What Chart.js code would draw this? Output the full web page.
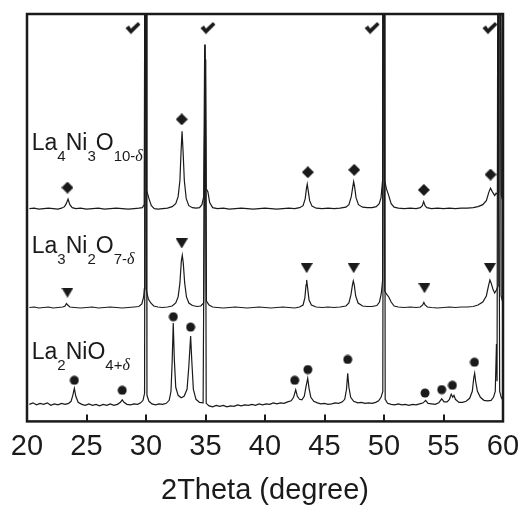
<!DOCTYPE html>
<html>
<head>
<meta charset="utf-8">
<script src="https://cdn.jsdelivr.net/npm/chart.js@4/dist/chart.umd.min.js"></script>
<style>
  html, body { margin: 0; padding: 0; background: #fff; }
  #wrap { width: 522px; height: 508px; position: relative; }
</style>
</head>
<body>
<div id="wrap"><canvas id="xrd"></canvas></div>
<script>
// x tick labels (2Theta)
const xTicks = [20, 25, 30, 35, 40, 45, 50, 55, 60];

// traces: [2theta, intensity] (offset arbitrary units)
const la4ni3o10 = [[20.2,212],[20.6,212.5],[21.0,211.5],[21.4,212],[21.8,212.5],[22.2,212],[22.6,211.5],[22.9,212.5],[23.15,214],[23.3,217],[23.45,221.5],[23.6,216],[23.8,213],[24.1,212],[24.5,212.5],[25.0,211.5],[25.5,212],[26.0,212.5],[26.5,211.5],[27.0,212],[27.5,212.5],[28.0,212],[28.5,211.5],[29.0,212],[29.4,212.5],[29.7,213],[29.85,216],[29.93,600],[30.0,600],[30.06,230],[30.25,222],[30.45,215],[30.7,212],[31.0,211.5],[31.4,212],[31.8,212.5],[32.2,214],[32.5,217],[32.7,224],[32.85,240],[32.95,270],[33.03,289],[33.12,268],[33.22,240],[33.38,222],[33.6,215],[33.9,213],[34.2,212.5],[34.5,213],[34.7,216],[34.85,224],[34.93,375],[34.98,375],[35.05,232],[35.2,229],[35.35,218],[35.6,213],[36.0,212],[36.5,212.5],[37.0,211.5],[37.5,212],[38.0,212.5],[38.5,212],[39.0,211.5],[39.5,212],[40.0,212.5],[40.5,212],[41.0,211.5],[41.5,212],[42.0,212.5],[42.5,212],[42.9,213],[43.2,215],[43.38,222],[43.48,232],[43.55,236.5],[43.63,230],[43.75,220],[43.95,214.5],[44.3,212.5],[44.8,212],[45.3,212.5],[45.8,212],[46.3,212.5],[46.8,213.5],[47.05,216],[47.25,224],[47.38,234],[47.45,239],[47.53,234],[47.65,223],[47.85,216],[48.2,213.5],[48.6,213],[49.0,213],[49.35,214],[49.6,217],[49.75,223],[49.88,240],[49.93,600],[50.0,600],[50.06,240],[50.2,232],[50.4,225],[50.6,217],[50.85,213.5],[51.2,212.5],[51.7,212],[52.2,212.5],[52.7,212],[53.05,213],[53.22,215],[53.33,219],[53.45,215],[53.6,213],[54.0,212],[54.5,212.5],[55.0,212],[55.5,212.5],[56.0,212],[56.5,212.5],[57.0,212.5],[57.5,213],[57.9,214],[58.3,216],[58.6,220],[58.8,228],[58.95,232.5],[59.1,229],[59.3,225],[59.42,227.5],[59.55,226],[59.65,228],[59.72,600],[59.8,600],[59.86,226],[59.95,221]];

const la3ni2o7 = [[20.2,113.5],[20.6,114],[21.0,113],[21.4,113.5],[21.8,114],[22.2,113],[22.6,113.5],[23.0,114],[23.2,115],[23.32,117.5],[23.42,116],[23.6,114],[24.0,113.5],[24.5,113],[25.0,113.5],[25.5,114],[26.0,113],[26.5,113.5],[27.0,114],[27.5,113.5],[28.0,113],[28.5,113.5],[29.0,114],[29.4,114.5],[29.65,117],[29.8,124],[29.86,132],[29.9,600],[29.97,600],[30.03,130],[30.2,122],[30.4,118],[30.65,115],[31.0,114],[31.4,113.5],[31.8,114],[32.2,115],[32.5,118],[32.7,124],[32.85,138],[32.97,160],[33.05,165.5],[33.13,158],[33.25,138],[33.4,124],[33.6,118],[33.9,115.5],[34.3,114.5],[34.6,115],[34.85,118],[34.95,360],[35.02,360],[35.08,120],[35.3,116],[35.6,114],[36.0,113.5],[36.5,113],[37.0,113.5],[37.5,114],[38.0,113.5],[38.5,113],[39.0,113.5],[39.5,114],[40.0,113.5],[40.5,113],[41.0,113.5],[41.5,114],[42.0,113.5],[42.5,113],[42.9,114],[43.2,116],[43.35,123],[43.45,136],[43.5,141],[43.57,134],[43.7,121],[43.9,116],[44.3,114],[44.8,113.5],[45.3,114],[45.8,113.5],[46.3,114],[46.8,115],[47.05,118],[47.22,126],[47.35,136],[47.42,140],[47.5,136],[47.62,125],[47.82,118],[48.2,115],[48.6,114.5],[49.0,114.5],[49.4,115.5],[49.62,119],[49.78,128],[49.88,140],[49.93,600],[50.0,600],[50.06,130],[50.2,127],[50.4,124],[50.6,119],[50.85,115],[51.2,114],[51.7,113.5],[52.2,114],[52.7,113.5],[53.05,114],[53.25,116],[53.35,118.5],[53.45,116],[53.65,114],[54.0,113.5],[54.5,113],[55.0,113.5],[55.5,114],[56.0,113.5],[56.5,114],[57.0,114],[57.5,114.5],[57.9,116],[58.3,119],[58.6,125],[58.78,135],[58.9,141],[59.0,138],[59.15,132],[59.3,128],[59.45,131],[59.6,135],[59.68,600],[59.76,600],[59.84,125],[59.95,120]];

const la2nio4 = [[20.2,17],[20.5,18.5],[20.8,16.5],[21.1,18],[21.4,17],[21.7,18.5],[22.0,16],[22.3,17.5],[22.6,16.5],[22.9,18],[23.2,17],[23.5,18],[23.7,20],[23.85,26],[23.98,33],[24.1,25],[24.3,19],[24.6,17],[24.9,16],[25.2,17.5],[25.5,16],[25.8,17],[26.1,15.5],[26.4,17],[26.7,16],[27.0,17.5],[27.3,16],[27.6,17],[27.85,19],[28.0,21.5],[28.15,19],[28.4,17],[28.7,16.5],[29.0,17.5],[29.3,17],[29.55,18.5],[29.75,21],[29.88,28],[29.95,600],[30.02,600],[30.08,26],[30.25,20],[30.5,17.5],[30.8,16.5],[31.1,17.5],[31.4,17],[31.7,18],[31.95,21],[32.1,30],[32.2,60],[32.29,98],[32.38,62],[32.5,34],[32.7,26],[32.95,23.5],[33.2,25],[33.45,32],[33.6,55],[33.75,85],[33.85,60],[33.98,32],[34.2,22],[34.5,19],[34.8,18.5],[34.93,300],[35.0,300],[35.06,18],[35.3,15.5],[35.6,14.5],[35.9,16],[36.2,15],[36.5,16],[36.8,14.5],[37.1,15.5],[37.4,15],[37.7,16.5],[38.0,15.5],[38.3,16.5],[38.6,16],[38.9,17],[39.2,16],[39.5,17.5],[39.8,16.5],[40.1,17.5],[40.4,17],[40.7,18.5],[41.0,17.5],[41.3,18.5],[41.6,18],[41.9,19.5],[42.2,20.5],[42.4,24],[42.58,31.5],[42.72,25],[42.9,22],[43.1,21.5],[43.3,25],[43.45,35],[43.59,43],[43.7,33],[43.85,24],[44.1,20],[44.4,18.5],[44.7,17.5],[45.0,18],[45.3,17],[45.6,17.5],[45.9,18.5],[46.2,18],[46.5,19.5],[46.7,22],[46.85,32],[46.95,48],[47.05,34],[47.2,24],[47.45,20],[47.8,18.5],[48.1,19],[48.4,18],[48.7,18.5],[49.0,18],[49.3,19],[49.55,20.5],[49.75,24],[49.9,30],[49.97,600],[50.04,600],[50.1,22],[50.3,18],[50.6,17],[50.9,16.5],[51.2,17.5],[51.5,16.5],[51.8,17],[52.1,16],[52.4,17],[52.7,16.5],[53.0,17.5],[53.3,18.5],[53.5,21],[53.7,18],[54.0,17.5],[54.3,17],[54.6,18.5],[54.85,22.5],[55.05,19.5],[55.3,19.5],[55.5,22],[55.65,27],[55.78,24],[55.88,26],[56.0,22],[56.3,19],[56.6,19],[56.9,20],[57.2,23],[57.42,30],[57.55,44],[57.62,48],[57.7,40],[57.85,30],[58.1,24],[58.4,21],[58.7,20.5],[59.0,21],[59.2,24],[59.35,30],[59.45,77],[59.5,40],[59.58,600],[59.66,600],[59.72,30],[59.85,24],[59.95,22]];

// phase markers
const diamonds = [[23.4,233],[33.0,301],[43.6,248.3],[47.5,250.7],[53.35,230.7],[58.95,246]];
const triangles = [[23.4,128.3],[33.0,177.3],[43.5,152.7],[47.45,152.7],[53.4,132.7],[58.9,152.7]];
const circles = [[23.98,41],[28.0,31],[32.3,104.3],[33.75,94],[42.5,41],[43.6,51.7],[46.95,61.7],[53.45,28.3],[54.85,31.7],[55.75,36],[57.6,59]];
const checks = [[28.9,392],[35.2,392],[49.0,392],[58.9,392]];

// sample labels: [2theta, intensity] anchor, then pieces (0 normal, 1 subscript, 2 italic subscript)
const labelAnchors = [[20.4,270],[20.4,168.3],[20.4,61.7]];
const labelParts = [
  [['La',0],['4',1],['Ni',0],['3',1],['O',0],['10-',1],['δ',2]],
  [['La',0],['3',1],['Ni',0],['2',1],['O',0],['7-',1],['δ',2]],
  [['La',0],['2',1],['NiO',0],['4+',1],['δ',2]]
];

const INK = '#1a1a1a';
const toXY = arr => arr.map(p => ({ x: p[0], y: p[1] }));

function marker(kind) {
  const c = document.createElement('canvas');
  let g;
  if (kind === 'diamond') {
    c.width = 12; c.height = 12; g = c.getContext('2d'); g.beginPath();
    g.moveTo(6, 0); g.lineTo(12, 6); g.lineTo(6, 12); g.lineTo(0, 6);
  } else if (kind === 'tri') {
    c.width = 12; c.height = 10; g = c.getContext('2d'); g.beginPath();
    g.moveTo(0, 0); g.lineTo(12, 0); g.lineTo(6, 10);
  } else if (kind === 'dot') {
    c.width = 10; c.height = 10; g = c.getContext('2d'); g.beginPath();
    g.arc(5, 5, 4.5, 0, Math.PI * 2);
  } else {
    c.width = 16; c.height = 13; g = c.getContext('2d'); g.beginPath();
    g.moveTo(0.5, 6.5); g.lineTo(4, 4); g.lineTo(6, 7); g.lineTo(13, 0.5);
    g.lineTo(15.5, 3); g.lineTo(6, 12.5);
  }
  g.closePath();
  g.fillStyle = INK;
  g.fill();
  return c;
}

function trace(data) {
  return { type: 'scatter', data: toXY(data), showLine: true, borderColor: INK, borderWidth: 1.2,
    pointRadius: 0, tension: 0, order: 2 };
}
function marks(data, kind) {
  return { type: 'scatter', data: toXY(data), showLine: false, pointStyle: marker(kind),
    pointRadius: 5, order: 1 };
}

// frame, inside ticks and formula labels
const decor = {
  id: 'decor',
  afterDraw(chart) {
    const { ctx, chartArea: a, scales: { x, y } } = chart;
    ctx.save();
    ctx.strokeStyle = INK;
    ctx.lineWidth = 2;
    xTicks.forEach(v => {
      const px = Math.round(x.getPixelForValue(v));
      ctx.beginPath(); ctx.moveTo(px, a.bottom); ctx.lineTo(px, a.bottom - 7); ctx.stroke();
    });
    ctx.lineWidth = 2.5;
    ctx.strokeRect(a.left, a.top, a.right - a.left, a.bottom - a.top);

    ctx.fillStyle = INK;
    ctx.textBaseline = 'alphabetic';
    labelAnchors.forEach((anc, i) => {
      let px = x.getPixelForValue(anc[0]);
      const py = y.getPixelForValue(anc[1]);
      labelParts[i].forEach(([t, kind]) => {
        if (kind === 0) ctx.font = '23px "Liberation Sans", Arial, sans-serif';
        else if (kind === 1) ctx.font = '15px "Liberation Sans", Arial, sans-serif';
        else ctx.font = 'italic 16px "Liberation Serif", "Times New Roman", serif';
        ctx.fillText(t, px, kind === 0 ? py : py + 11);
        px += ctx.measureText(t).width;
      });
    });
    ctx.restore();
  }
};

new Chart(document.getElementById('xrd'), {
  type: 'scatter',
  data: {
    datasets: [
      trace(la4ni3o10), trace(la3ni2o7), trace(la2nio4),
      marks(diamonds, 'diamond'), marks(triangles, 'tri'), marks(circles, 'dot'), marks(checks, 'check')
    ]
  },
  options: {
    responsive: true,
    maintainAspectRatio: false,
    animation: false,
    events: [],
    layout: { padding: { left: 27, right: 19, top: 14, bottom: 0 } },
    plugins: { legend: { display: false }, tooltip: { enabled: false } },
    scales: {
      x: {
        type: 'linear', min: 20, max: 60,
        afterBuildTicks: s => { s.ticks = xTicks.map(v => ({ value: v })); },
        afterFit: s => { s.paddingLeft = 0; s.paddingRight = 0; },
        grid: { display: false, drawTicks: false },
        border: { display: false },
        ticks: { color: INK, padding: 8, maxRotation: 0,
          font: { family: '"Liberation Sans", Arial, sans-serif', size: 29 } },
        title: { display: true, text: '2Theta (degree)', color: INK, padding: { top: 1, bottom: 0 },
          font: { family: '"Liberation Sans", Arial, sans-serif', size: 29 } }
      },
      y: { display: false, min: 0, max: 406 }
    }
  },
  plugins: [decor]
});
</script>
</body>
</html>
